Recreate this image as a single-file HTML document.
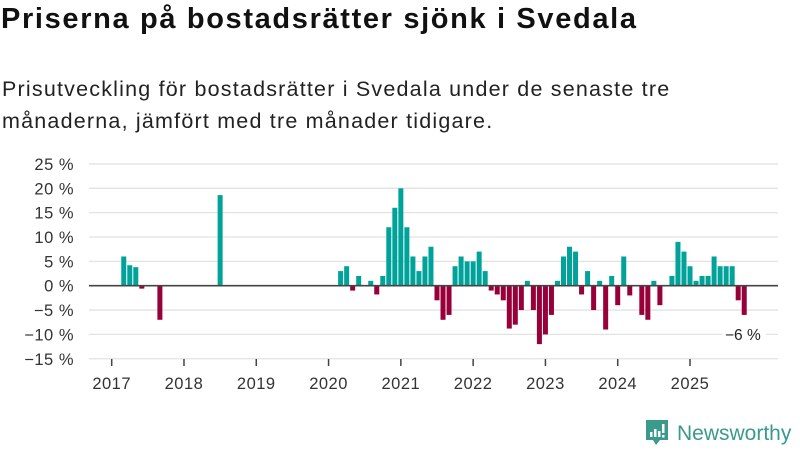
<!DOCTYPE html>
<html><head><meta charset="utf-8">
<style>
body{margin:0;width:800px;height:450px;background:#fff;font-family:"Liberation Sans",sans-serif;overflow:hidden;position:relative}
#title{position:absolute;left:1px;top:3px;font-size:29px;font-weight:bold;color:#111;letter-spacing:1.65px;white-space:nowrap}
#subtitle{position:absolute;left:2px;top:73px;font-size:21.5px;line-height:32px;color:#222;letter-spacing:1.2px;white-space:nowrap}
svg{position:absolute;left:0;top:0}
</style></head><body>
<div id="title">Priserna på bostadsrätter sjönk i Svedala</div>
<div id="subtitle">Prisutveckling för bostadsrätter i Svedala under de senaste tre<br>månaderna, jämfört med tre månader tidigare.</div>
<svg id="chart" width="800" height="450"></svg>
<script>
// monthly values starting Jan 2017 (null = no data)
const startYear = 2017;
const values = [
null,null,6,4.2,3.8,-0.6,null,null,-7,null,null,null,
null,null,null,null,null,null,18.6,null,null,null,null,null,
null,null,null,null,null,null,null,null,null,null,null,null,
null,null,3,4,-1,2,null,1,-1.8,2,12,16,
20,12,6,3,6,8,-3,-7,-6,4,6,5,
5,7,3,-1,-1.8,-3,-8.8,-8,-5,1,-5,-12,
-10,-6,1,6,8,7,-1.8,3,-5,1,-9,2,
-4,6,-2,null,-6,-7,1,-4,null,2,9,7,
4,1,2,2,6,4,4,4,-3,-6
];
const yTicks = [25,20,15,10,5,0,-5,-10,-15];
const yearLabels = [2017,2018,2019,2020,2021,2022,2023,2024,2025];
const endLabel = "−6 %";

const svg = document.getElementById('chart');
const NS = 'http://www.w3.org/2000/svg';
const y0 = 285.7, pxPerPct = 4.87;
const x0 = 111.7, pxPerMonth = 6.024;
function yScale(v){return y0 - v*pxPerPct;}
function xScale(i){return x0 + i*pxPerMonth;}
function mk(tag, attrs){const e=document.createElementNS(NS,tag);for(const k in attrs)e.setAttribute(k,attrs[k]);svg.appendChild(e);return e;}

yTicks.forEach(t=>{
  const y=yScale(t);
  if(t!==0){
    const g=mk('line',{x1:89,x2:778,y1:y,y2:y,stroke:'#e2e2e2','stroke-width':1.3});
    
    
  }
  const lb=mk('text',{x:74,y:y+6,'text-anchor':'end','font-size':16.5,fill:'#333','letter-spacing':0.5,'font-family':'Liberation Sans, sans-serif'});
  lb.textContent=(t<0?'−'+Math.abs(t):t)+' %';
  
  
});

values.forEach((v,i)=>{
  if(v===null||v===0)return;
  const x=xScale(i);
  const y=yScale(Math.max(v,0)), h=Math.abs(v)*pxPerPct;
  const b=mk('rect',{x:x-2.5,y:y,width:5,height:h,fill:v>0?'#00a39a':'#98003a'});
  
  
});

const zl=mk('line',{x1:89,x2:778,y1:y0,y2:y0,stroke:'#444','stroke-width':1.6});



yearLabels.forEach(yr=>{
  const x=xScale((yr-startYear)*12);
  const tk=mk('line',{x1:x,x2:x,y1:359,y2:366,stroke:'#444','stroke-width':1.5});
  
  
  const lb=mk('text',{x:x,y:389,'text-anchor':'middle','font-size':16.5,fill:'#333','letter-spacing':0.5,'font-family':'Liberation Sans, sans-serif'});
  lb.textContent=yr;
  
  
});

const el=mk('rect',{x:722,y:yScale(-10)-10,width:44,height:20,fill:'#fff'});


const et=mk('text',{x:725,y:yScale(-10)+5.5,'font-size':15.5,fill:'#222','font-family':'Liberation Sans, sans-serif'});
et.textContent=endLabel;


</script>
<svg width="800" height="450" style="position:absolute;left:0;top:0">
  <path d="M646,420 h22 v20 h-8 l-4,5 l-3,-5 h-7 z" fill="#3a9a8c"/>
  <rect x="650" y="432" width="2.5" height="5" fill="#fff"/>
  <rect x="654" y="429" width="2.5" height="8" fill="#fff"/>
  <rect x="658" y="431" width="2.5" height="6" fill="#fff"/>
  <rect x="662" y="424" width="2.5" height="9" fill="#fff"/>
  <rect x="662" y="435" width="2.5" height="2.5" fill="#fff"/>
  <text x="677" y="440" font-size="21" fill="#3a9a8c" font-family="Liberation Sans, sans-serif">Newsworthy</text>
</svg>
</body></html>
